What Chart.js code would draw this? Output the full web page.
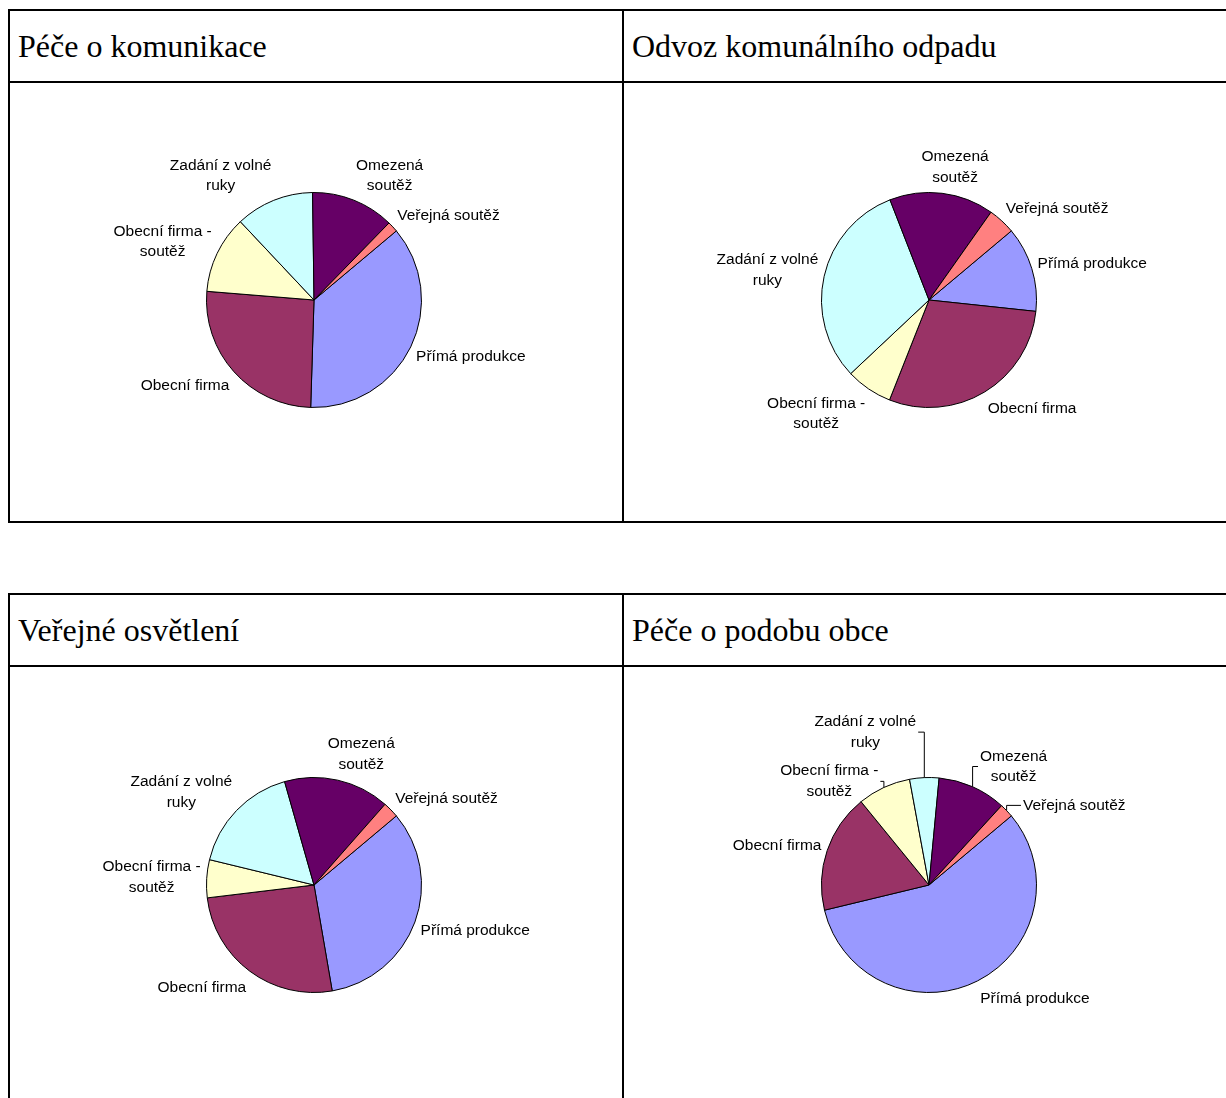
<!DOCTYPE html>
<html>
<head>
<meta charset="utf-8">
<script src="https://cdn.jsdelivr.net/npm/chart.js"></script>
<style>
html, body { margin: 0; padding: 0; background: #fff; width: 1226px; height: 1098px; overflow: hidden; }
.tbl { position: absolute; left: 8px; width: 1240px; height: 514px; border: 2px solid #000; box-sizing: border-box; }
.vline { position: absolute; left: 612px; top: 0; bottom: 0; width: 2px; background: #000; }
.hline { position: absolute; left: 0; right: 0; top: 70px; height: 2px; background: #000; }
.ttl { position: absolute; top: 0; height: 70px; padding-left: 8px;
       font: 32px "Liberation Serif", "Times New Roman", serif; line-height: 70px;
       color: #000; white-space: nowrap; }
canvas { position: absolute; }
</style>
</head>
<body>

<div class="tbl" style="top:9px">
  <div class="vline"></div><div class="hline"></div>
  <div class="ttl" id="t0" style="left:0"></div>
  <div class="ttl" id="t1" style="left:614px"></div>
</div>
<div class="tbl" style="top:593px">
  <div class="vline"></div><div class="hline"></div>
  <div class="ttl" id="t2" style="left:0"></div>
  <div class="ttl" id="t3" style="left:614px"></div>
</div>

<canvas id="c0" width="615" height="440" style="left:8px;top:82px"></canvas>
<canvas id="c1" width="615" height="440" style="left:623px;top:82px"></canvas>
<canvas id="c2" width="615" height="440" style="left:8px;top:667px"></canvas>
<canvas id="c3" width="615" height="440" style="left:623px;top:667px"></canvas>

<script>
// categories in drawing order (clockwise from the first slice)
var categories = [
    ['Přímá produkce'],
    ['Obecní firma'],
    ['Obecní firma -', 'soutěž'],
    ['Zadání z volné', 'ruky'],
    ['Omezená', 'soutěž'],
    ['Veřejná soutěž']
];
var titles = ['Péče o komunikace', 'Odvoz komunálního odpadu', 'Veřejné osvětlení', 'Péče o podobu obce'];

// shares in %
var komunikace = [36.6, 25.8, 11.7, 11.8, 12.5, 1.6];
var odpad      = [12.8, 29.3, 7.0, 31.1, 15.7, 4.1];
var osvetleni  = [33.4, 25.8, 5.7, 16.8, 15.9, 2.4];
var podoba     = [57.4, 17.9, 8.0, 4.4, 10.3, 2.1];

var colors = ['#9999FF', '#993366', '#FFFFCC', '#CCFFFF', '#660066', '#FF8080'];

var LINE_H = 20.5;

// Excel-like outside labels; optional nudges get a leader line
var sliceLabels = {
    id: 'sliceLabels',
    afterDatasetsDraw: function(chart, args, opts) {
        var ctx = chart.ctx;
        var meta = chart.getDatasetMeta(0);
        var nudges = opts.nudges || [];
        ctx.save();
        ctx.font = '15.5px "Liberation Sans", Arial, sans-serif';
        ctx.fillStyle = '#000';
        ctx.strokeStyle = '#000';
        ctx.lineWidth = 1;
        ctx.textAlign = 'center';
        ctx.textBaseline = 'middle';
        meta.data.forEach(function(arc, i) {
            var p = arc.getProps(['x', 'y', 'startAngle', 'endAngle', 'outerRadius'], true);
            var mid = (p.startAngle + p.endAngle) / 2;
            var ux = Math.cos(mid), uy = Math.sin(mid);
            var lines = chart.data.labels[i];
            var w = 0;
            lines.forEach(function(t) { w = Math.max(w, ctx.measureText(t).width); });
            var h = lines.length * LINE_H;
            var ax = p.x + (p.outerRadius + 6) * ux;
            var ay = p.y + (p.outerRadius + 6) * uy;
            var f = Math.max(-1, Math.min(1, 3 * ux));
            var cx = ax + f * w / 2;
            var cy = ay + uy * h / 2 + (uy > 0 ? 3 : 0);
            var n = nudges[i];
            if (n) {
                cx += n[0];
                cy += n[1];
                var ex = p.x + p.outerRadius * ux;
                var ey = p.y + p.outerRadius * uy;
                var px = cx < p.x ? cx + w / 2 + 2 : cx - w / 2 - 2;
                ctx.beginPath();
                ctx.moveTo(ex, ey);
                ctx.lineTo(ex, cy);
                ctx.lineTo(px, cy);
                ctx.stroke();
            }
            lines.forEach(function(t, k) {
                ctx.fillText(t, cx, cy - h / 2 + LINE_H * (k + 0.5));
            });
        });
        ctx.restore();
    }
};

function makePie(canvasId, values, nudges) {
    return new Chart(document.getElementById(canvasId), {
        type: 'pie',
        data: {
            labels: categories,
            datasets: [{
                data: values,
                backgroundColor: colors,
                borderColor: '#000',
                borderWidth: 1
            }]
        },
        options: {
            responsive: false,
            animation: false,
            rotation: 50,
            layout: { padding: { left: 198, right: 201, top: 110, bottom: 114 } },
            plugins: {
                legend: { display: false },
                tooltip: { enabled: false },
                sliceLabels: { nudges: nudges || [] }
            }
        },
        plugins: [sliceLabels]
    });
}

titles.forEach(function(t, i) { document.getElementById('t' + i).textContent = t; });

makePie('c0', komunikace);
makePie('c1', odpad);
makePie('c2', osvetleni);
makePie('c3', podoba, [null, null, [-3, 18], [-52, -19], [5, 4], [12, 6]]);
</script>
</body>
</html>
